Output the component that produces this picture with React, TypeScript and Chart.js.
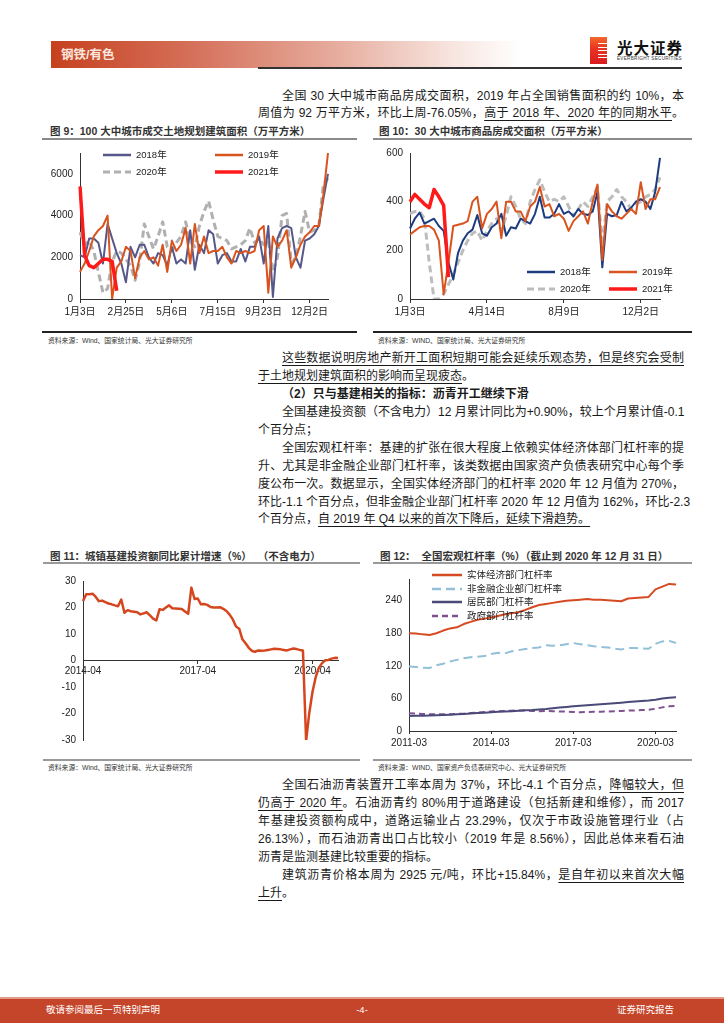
import React, { useEffect, useRef } from 'react';
import { Chart, registerables } from 'chart.js';

Chart.register(...registerables);

const AX_FONT = '"Liberation Sans", Arial, "Noto Sans CJK SC", sans-serif';
const BODY_FONT = '"Liberation Sans", Arial, "Noto Sans CJK SC", sans-serif';

// ---------------- Figure 9 ----------------
const fig9TickLabels = ['1月3日', '2月25日', '5月6日', '7月15日', '9月23日', '12月2日'];
const fig9TickStep = 10;
const fig9YTicks = [0, 2000, 4000, 6000];
const fig9Legend = ['2018年', '2019年', '2020年', '2021年'];
const fig9S2018 = [2100, 2000, 2900, 2900, 2700, 1700, 3600, 2900, 2200, 1700, 800, 2500, 2000, 2600, 2600, 2000, 1700, 2200, 2100, 1600, 2500, 1700, 1900, 1700, 3300, 1400, 2600, 2200, 3300, 3100, 1700, 2100, 2200, 1800, 1800, 2400, 1800, 2500, 2500, 3000, 1700, 3500, 100, 2900, 3400, 3500, 3400, 2000, 1500, 2800, 2900, 3100, 3500, 4800, 6000];
const fig9S2019 = [1300, 1700, 2300, 3000, 3300, 3500, 4000, 0, 1500, 1800, 2500, 2300, 1000, 2000, 2300, 1900, 2000, 1600, 2600, 1300, 2800, 2300, 2600, 3400, 1700, 3600, 2200, 3000, 2200, 2300, 2300, 2500, 2000, 1700, 2300, 2200, 2300, 2200, 2300, 3300, 3500, 300, 3000, 2500, 2800, 3300, 1500, 2000, 2600, 3000, 3200, 3500, 3500, 5000, 7000];
const fig9S2020 = [3200, 2600, 2800, 2300, 1300, 300, 500, 1800, 2300, 2200, 1900, 1600, 900, 1800, 3600, 3000, 2400, 3000, 3700, 2500, 2300, 2700, 3000, 3700, 2800, 2500, 3500, 4200, 4700, 3800, 3000, 2900, 2800, 2400, 2500, 2600, 2800, 3400, 2700, 2900, 2600, 2800, 1300, 2000, 4000, 4100, 1700, 2000, 3000, 4200, 3200, 3300, 3500, 5500, 5800];
const fig9S2021 = [5400, 2100, 1600, 1500, 1700, 1900, 1900, 1800, 400];

// ---------------- Figure 10 ----------------
const fig10TickLabels = ['1月3日', '4月14日', '8月9日', '12月2日'];
const fig10TickStep = 16;
const fig10YTicks = [0, 200, 400, 600];
const fig10Legend = ['2018年', '2019年', '2020年', '2021年'];
const fig10S2018 = [290, 330, 355, 310, 320, 330, 300, 280, 150, 80, 190, 240, 270, 285, 345, 270, 260, 295, 310, 350, 260, 295, 290, 330, 320, 310, 350, 420, 335, 335, 350, 390, 350, 360, 340, 370, 350, 345, 360, 440, 130, 350, 340, 345, 400, 360, 375, 400, 410, 400, 370, 440, 580];
const fig10S2019 = [265, 280, 295, 300, 300, 285, 240, 20, 150, 300, 305, 310, 320, 400, 420, 290, 350, 370, 400, 250, 400, 400, 360, 360, 320, 380, 400, 460, 380, 390, 340, 350, 330, 280, 320, 340, 360, 310, 400, 470, 160, 390, 360, 340, 330, 350, 370, 350, 480, 370, 410, 410, 460];
const fig10S2020 = [350, 360, 360, 330, 150, 0, 0, 20, 60, 100, 150, 200, 240, 270, 280, 240, 280, 310, 330, 280, 340, 420, 380, 330, 310, 400, 450, 490, 440, 400, 410, 400, 420, 380, 340, 370, 400, 380, 420, 460, 220, 400, 420, 450, 420, 400, 370, 390, 400, 420, 430, 450, 500];
const fig10S2021 = [400, 430, 410, 390, 375, 450, 420, 385, 90];

// ---------------- Figure 11 ----------------
const fig11TickLabels = ['2014-04', '2017-04', '2020-04'];
const fig11TickStep = 36;
const fig11YTicks = [-30, -20, -10, 0, 10, 20, 30];
const fig11Values = [22.4, 25.0, 25.0, 25.2, 24.0, 22.4, 22.6, 22.0, 21.5, 21.2, 20.8, 20.5, 23.0, 18.0, 19.0, 18.6, 18.4, 18.2, 17.4, 17.8, 18.2, 17.0, 15.8, 15.1, 19.3, 19.1, 20.0, 20.8, 19.7, 19.6, 19.5, 19.4, 18.5, 17.6, 27.5, 23.2, 23.4, 21.2, 21.3, 21.0, 20.2, 20.0, 20.0, 20.1, 19.5, 18.7, 17.3, 15.5, 12.8, 12.0, 8.0, 6.5, 4.8, 3.6, 3.3, 3.8, 3.7, 3.8, 4.0, 4.2, 4.4, 4.3, 4.2, 4.0, 3.8, 4.2, 4.5, 4.3, 4.0, 3.8, -30.3, -19.7, -11.8, -6.3, -2.7, -1.0, 0.1, 0.2, 0.7, 1.0, 0.9];

// ---------------- Figure 12 ----------------
const fig12TickLabels = ['2011-03', '2014-03', '2017-03', '2020-03'];
const fig12TickStep = 12;
const fig12YTicks = [0, 60, 120, 180, 240];
const fig12Legend = ['实体经济部门杠杆率', '非金融企业部门杠杆率', '居民部门杠杆率', '政府部门杠杆率'];
const fig12Real = [180, 179.5, 178, 177, 180, 185, 189, 191, 197, 201, 205, 207, 209, 212, 215, 217, 219, 223, 228, 232, 234, 236, 238, 240, 241, 242, 243, 242, 242, 241, 240, 239, 244, 245, 246, 247, 261, 266, 271, 270];
const fig12Corp = [119, 118, 116.5, 116, 121, 124, 128, 131, 134, 136, 137, 138, 142, 144, 143, 147, 149, 151, 153, 154, 158, 157, 158, 160, 162, 160, 158, 156, 155, 154, 152, 150, 153, 153, 152, 151.5, 160.5, 165, 166, 162];
const fig12House = [27.8, 28, 28.2, 28.5, 29, 29.5, 30, 30.7, 31.5, 32.3, 33, 33.8, 34.6, 35.3, 35.8, 36.4, 37.2, 38, 38.6, 39.5, 40.6, 42, 43.2, 44.4, 45.4, 46.5, 47.4, 48.4, 49.2, 50, 51, 52, 53.2, 54.3, 55.2, 56.3, 57.7, 59.7, 61.3, 62.2];
const fig12Gov = [32.5, 32, 31.5, 31, 30.8, 30.7, 31, 31.5, 32, 33, 34, 35, 36, 36.5, 37, 37.5, 38, 37.5, 37, 36.5, 37, 36.5, 36, 36, 35, 34.5, 35, 35.5, 35.5, 36, 36.5, 37, 37.5, 38, 38.5, 39, 41, 43.5, 45.5, 46];

// -------- helpers --------
function categories(n: number, step: number, ticks: string[]): string[] {
  const out: string[] = [];
  for (let i = 0; i < n; i++) out.push(i % step === 0 && ticks[i / step] ? ticks[i / step] : '');
  return out;
}

function ds(label: string, data: number[], color: string, width: number, dash: number[], order: number) {
  return {
    label, data, borderColor: color, backgroundColor: color, borderWidth: width, borderDash: dash,
    pointRadius: 0, pointHoverRadius: 0, tension: 0, fill: false, order,
    borderJoinStyle: 'round', borderCapStyle: 'butt', spanGaps: false,
  };
}

function xAxis(labels: string[], height: number, tickLen: number, pad: number, extra: any = {}) {
  return {
    type: 'category',
    offset: false,
    grid: {
      display: true, drawOnChartArea: false, drawTicks: true, tickLength: tickLen,
      color: (c: any) => (labels[c.index] ? '#333' : 'rgba(0,0,0,0)'), lineWidth: 1,
    },
    border: { display: true, color: '#333', width: 1 },
    ticks: {
      autoSkip: false, maxRotation: 0, minRotation: 0, padding: pad, color: '#222',
      font: { family: AX_FONT, size: 10 },
      callback: (_v: any, i: number) => labels[i],
    },
    afterFit: (s: any) => { s.height = height; },
    ...extra,
  };
}

function yAxis(min: number, max: number, tickValues: number[], width: number) {
  return {
    type: 'linear', min, max, bounds: 'data',
    grid: { display: false, drawTicks: false },
    border: { display: true, color: '#333', width: 1 },
    ticks: { padding: 7, color: '#222', font: { family: AX_FONT, size: 10 }, callback: (v: any) => String(v) },
    afterBuildTicks: (s: any) => { s.ticks = tickValues.map((v) => ({ value: v })); },
    afterFit: (s: any) => { s.width = width; },
  };
}

function baseOptions(padding: any, x: any, y: any) {
  return {
    responsive: false, animation: false, events: [],
    layout: { padding },
    plugins: { legend: { display: false }, tooltip: { enabled: false }, title: { display: false } },
    scales: { x, y },
  };
}

function ChartCanvas({ left, top, width, height, build }: any) {
  const ref = useRef<HTMLCanvasElement | null>(null);
  useEffect(() => {
    if (!ref.current) return;
    const chart = new Chart(ref.current, build());
    return () => chart.destroy();
  }, []);
  return <canvas ref={ref} width={width} height={height} style={{ position: 'absolute', left, top, width, height }} />;
}

function buildFig9() {
  const labels = categories(fig9S2018.length, fig9TickStep, fig9TickLabels);
  return {
    type: 'line',
    data: {
      labels,
      datasets: [
        ds(fig9Legend[0], fig9S2018, '#56578a', 2, [], 3),
        ds(fig9Legend[1], fig9S2019, '#d9531e', 2, [], 2),
        ds(fig9Legend[2], fig9S2020, '#b0b0b0', 3, [7, 4], 4),
        ds(fig9Legend[3], fig9S2021, '#ff1a1a', 3.5, [], 1),
      ],
    },
    options: baseOptions({ top: 5, right: 12, left: 0, bottom: 0 }, xAxis(labels, 31, 4, 3), yAxis(0, 7000, fig9YTicks, 40)),
  };
}

function buildFig10() {
  const labels = categories(fig10S2018.length, fig10TickStep, fig10TickLabels);
  return {
    type: 'line',
    data: {
      labels,
      datasets: [
        ds(fig10Legend[0], fig10S2018, '#1d3c80', 2, [], 3),
        ds(fig10Legend[1], fig10S2019, '#d9531e', 2, [], 2),
        ds(fig10Legend[2], fig10S2020, '#bdbdbd', 3, [7, 4], 4),
        ds(fig10Legend[3], fig10S2021, '#ff1a1a', 3.5, [], 1),
      ],
    },
    options: baseOptions({ top: 13, right: 40, left: 0, bottom: 0 }, xAxis(labels, 31, 4, 3), yAxis(0, 600, fig10YTicks, 40)),
  };
}

function buildFig11() {
  const labels = categories(fig11Values.length, fig11TickStep, fig11TickLabels);
  return {
    type: 'line',
    data: { labels, datasets: [ds('城镇基建投资额同比累计增速', fig11Values, '#d5461f', 2.5, [], 1)] },
    options: baseOptions({ top: 9, right: 22, left: 0, bottom: 0 }, xAxis(labels, 17, 3, 2, { position: { y: 0 } }), yAxis(-30, 30, fig11YTicks, 43)),
  };
}

function buildFig12() {
  const labels = categories(fig12Real.length, fig12TickStep, fig12TickLabels);
  return {
    type: 'line',
    data: {
      labels,
      datasets: [
        ds(fig12Legend[0], fig12Real, '#d64a22', 2, [], 1),
        ds(fig12Legend[1], fig12Corp, '#93bfd9', 2, [9, 5], 2),
        ds(fig12Legend[2], fig12House, '#4a4977', 2, [], 3),
        ds(fig12Legend[3], fig12Gov, '#7f5190', 2, [6, 4], 4),
      ],
    },
    options: baseOptions({ top: 7, right: 24, left: 0, bottom: 0 }, xAxis(labels, 25, 3, 3), yAxis(0, 280, fig12YTicks, 39)),
  };
}

// -------- HTML pieces --------
function LegendItem({ x, y, w, color, lw, dash, label, size = 9.5 }: any) {
  return (
    <>
      <svg style={{ position: 'absolute', left: x, top: y - 5, overflow: 'visible' }} width={w} height={10}>
        <line x1={0} y1={5} x2={w} y2={5} stroke={color} strokeWidth={lw} strokeDasharray={dash ? dash.join(' ') : undefined} />
      </svg>
      <div style={{ position: 'absolute', left: x + w + 5, top: y - 7, fontSize: size, lineHeight: '14px', fontFamily: BODY_FONT, color: '#222', whiteSpace: 'nowrap' }}>{label}</div>
    </>
  );
}

const U = ({ children }: any) => (
  <span style={{ textDecoration: 'underline', textDecorationThickness: '1px', textUnderlineOffset: '3px' }}>{children}</span>
);

function TLine({ y, indent, full, bold, children }: any) {
  return (
    <div style={{
      position: 'absolute', left: 258, top: y - 9, width: 426, height: 18, lineHeight: '18px', fontSize: 12,
      whiteSpace: 'nowrap', textAlign: full ? 'justify' : 'left', textAlignLast: full ? 'justify' : 'left',
      textIndent: indent ? 24 : 0, fontWeight: bold ? 700 : 400, color: '#1a1a1a', fontFamily: BODY_FONT,
    } as any}>{children}</div>
  );
}

function Title({ x, y, text }: any) {
  return <div style={{ position: 'absolute', left: x, top: y - 8, lineHeight: '16px', fontSize: 10.5, fontWeight: 700, color: '#333', fontFamily: BODY_FONT, whiteSpace: 'pre' }}>{text}</div>;
}

function Source({ x, y, text }: any) {
  return <div style={{ position: 'absolute', left: x, top: y - 5, lineHeight: '10px', fontSize: 6.8, color: '#333', fontFamily: BODY_FONT, whiteSpace: 'nowrap' }}>{text}</div>;
}

function HLine({ x1, x2, y, color, w }: any) {
  return <div style={{ position: 'absolute', left: x1, top: y - w / 2, width: x2 - x1, height: w, background: color }} />;
}

export default function App() {
  return (
    <div style={{ position: 'absolute', left: 0, top: 0, width: 724, height: 1024, background: '#fff', overflow: 'hidden', fontFamily: BODY_FONT }}>
      {/* header */}
      <div style={{ position: 'absolute', left: 51, top: 41, width: 470, height: 27, background: 'linear-gradient(90deg, #c6411e 0%, #d5705a 30%, #e6ab9c 60%, #f7e4de 85%, #ffffff 100%)' }} />
      <div style={{ position: 'absolute', left: 61, top: 47, lineHeight: '16px', fontSize: 12.5, fontWeight: 700, color: '#fbe6df' }}>钢铁/有色</div>
      <HLine x1={258} x2={682} y={68} color="#333" w={1.5} />
      {/* logo */}
      <div style={{ position: 'absolute', left: 590, top: 37, width: 17, height: 27, background: 'linear-gradient(180deg, #f26a2b 0%, #ea3522 40%, #d81b1f 100%)' }} />
      {[43, 46.5, 50, 53.5, 57].map((yy, i) => (
        <div key={i} style={{ position: 'absolute', left: 598, top: yy, width: 9, height: 1.3, background: '#fff' }} />
      ))}
      <div style={{ position: 'absolute', left: 617, top: 38, lineHeight: '18px', fontSize: 15.5, fontWeight: 700, color: '#111', fontFamily: '"Noto Sans CJK SC", sans-serif', letterSpacing: 1 }}>光大证券</div>
      <div style={{ position: 'absolute', left: 617, top: 56, lineHeight: '6px', fontSize: 4.6, color: '#333', whiteSpace: 'nowrap', letterSpacing: 0.3 }}>EVERBRIGHT SECURITIES</div>

      {/* paragraph 1 */}
      <TLine y={95.5} indent full>全国 30 大中城市商品房成交面积，2019 年占全国销售面积的约 10%，本</TLine>
      <TLine y={113} full>周值为 92 万平方米，环比上周-76.05%，<U>高于 2018 年、2020 年的同期水平</U>。</TLine>

      {/* fig 9 & 10 */}
      <Title x={50} y={131} text="图 9：100 大中城市成交土地规划建筑面积（万平方米）" />
      <Title x={379} y={131} text="图 10：30 大中城市商品房成交面积（万平方米）" />
      <HLine x1={42} x2={357} y={139} color="#8a8a8a" w={2} />
      <HLine x1={373} x2={692} y={139} color="#8a8a8a" w={2} />
      <ChartCanvas left={40} top={140} width={300} height={190} build={buildFig9} />
      <ChartCanvas left={370} top={140} width={330} height={190} build={buildFig10} />
      <LegendItem x={103} y={155} w={28} color="#56578a" lw={2.5} label={fig9Legend[0]} />
      <LegendItem x={215} y={155} w={28} color="#d9531e" lw={2.5} label={fig9Legend[1]} />
      <LegendItem x={103} y={172} w={28} color="#b0b0b0" lw={3} dash={[7, 4]} label={fig9Legend[2]} />
      <LegendItem x={215} y={172} w={28} color="#ff1a1a" lw={3.5} label={fig9Legend[3]} />
      <LegendItem x={527} y={272} w={28} color="#1d3c80" lw={2.5} label={fig10Legend[0]} />
      <LegendItem x={609} y={272} w={28} color="#d9531e" lw={2.5} label={fig10Legend[1]} />
      <LegendItem x={527} y={289} w={28} color="#bdbdbd" lw={3} dash={[7, 4]} label={fig10Legend[2]} />
      <LegendItem x={609} y={289} w={28} color="#ff1a1a" lw={3.5} label={fig10Legend[3]} />
      <HLine x1={42} x2={357} y={332} color="#222" w={1.2} />
      <HLine x1={373} x2={692} y={332} color="#222" w={1.2} />
      <Source x={48} y={340.5} text="资料来源：Wind、国家统计局、光大证券研究所" />
      <Source x={378} y={340.5} text="资料来源：WIND、国家统计局、光大证券研究所" />

      {/* paragraph 2 */}
      <TLine y={358} indent full><U>这些数据说明房地产新开工面积短期可能会延续乐观态势，但是终究会受制</U></TLine>
      <TLine y={376}><U>于土地规划建筑面积的影响而呈现疲态</U>。</TLine>
      <TLine y={394} indent bold>（2）只与基建相关的指标：沥青开工继续下滑</TLine>
      <TLine y={412} indent full>全国基建投资额（不含电力）12 月累计同比为+0.90%，较上个月累计值-0.1</TLine>
      <TLine y={430}>个百分点；</TLine>
      <TLine y={448} indent full>全国宏观杠杆率：基建的扩张在很大程度上依赖实体经济体部门杠杆率的提</TLine>
      <TLine y={466} full>升、尤其是非金融企业部门杠杆率，该类数据由国家资产负债表研究中心每个季</TLine>
      <TLine y={484} full>度公布一次。数据显示，全国实体经济部门的杠杆率 2020 年 12 月值为 270%，</TLine>
      <TLine y={501.5} full>环比-1.1 个百分点，但非金融企业部门杠杆率 2020 年 12 月值为 162%，环比-2.3</TLine>
      <TLine y={519}>个百分点，<U>自 2019 年 Q4 以来的首次下降后，延续下滑趋势。</U></TLine>

      {/* fig 11 & 12 */}
      <Title x={50} y={556} text="图 11：城镇基建投资额同比累计增速（%）  （不含电力）" />
      <Title x={380} y={556} text="图 12：  全国宏观杠杆率（%）（截止到 2020 年 12 月 31 日）" />
      <HLine x1={43} x2={360} y={563} color="#999" w={2} />
      <HLine x1={373} x2={692} y={563} color="#999" w={2} />
      <ChartCanvas left={40} top={568} width={320} height={185} build={buildFig11} />
      <ChartCanvas left={370} top={566} width={330} height={190} build={buildFig12} />
      <LegendItem x={432} y={575} w={30} color="#d64a22" lw={2.5} label={fig12Legend[0]} size={9.5} />
      <LegendItem x={432} y={588.5} w={30} color="#93bfd9" lw={2.5} dash={[9, 5]} label={fig12Legend[1]} size={9.5} />
      <LegendItem x={432} y={602} w={30} color="#4a4977" lw={2.5} label={fig12Legend[2]} size={9.5} />
      <LegendItem x={432} y={615.5} w={30} color="#7f5190" lw={2.5} dash={[6, 4]} label={fig12Legend[3]} size={9.5} />
      <HLine x1={43} x2={360} y={760} color="#999" w={1.8} />
      <HLine x1={373} x2={692} y={760} color="#999" w={1.8} />
      <Source x={48} y={768} text="资料来源：Wind、国家统计局、光大证券研究所" />
      <Source x={378} y={768} text="资料来源：WIND、国家资产负债表研究中心、光大证券研究所" />

      {/* paragraph 3 */}
      <TLine y={785} indent full>全国石油沥青装置开工率本周为 37%，环比-4.1 个百分点，<U>降幅较大，但</U></TLine>
      <TLine y={803} full><U>仍高于 2020 年</U>。石油沥青约 80%用于道路建设（包括新建和维修），而 2017</TLine>
      <TLine y={821} full>年基建投资额构成中，道路运输业占 23.29%，仅次于市政设施管理行业（占</TLine>
      <TLine y={839} full>26.13%），而石油沥青出口占比较小（2019 年是 8.56%），因此总体来看石油</TLine>
      <TLine y={857}>沥青是监测基建比较重要的指标。</TLine>
      <TLine y={875} indent full>建筑沥青价格本周为 2925 元/吨，环比+15.84%，<U>是自年初以来首次大幅</U></TLine>
      <TLine y={893}><U>上升</U>。</TLine>

      {/* footer */}
      <div style={{ position: 'absolute', left: 0, top: 997, width: 724, height: 1.5, background: '#e39a86' }} />
      <div style={{ position: 'absolute', left: 0, top: 998.5, width: 724, height: 24, background: '#c4452a' }} />
      <div style={{ position: 'absolute', left: 46, top: 1003, lineHeight: '14px', fontSize: 9.5, color: '#fff' }}>敬请参阅最后一页特别声明</div>
      <div style={{ position: 'absolute', left: 352, width: 20, textAlign: 'center', top: 1003, lineHeight: '14px', fontSize: 9.5, color: '#fff' }}>-4-</div>
      <div style={{ position: 'absolute', left: 617, top: 1003, lineHeight: '14px', fontSize: 9.5, color: '#fff' }}>证券研究报告</div>
    </div>
  );
}
